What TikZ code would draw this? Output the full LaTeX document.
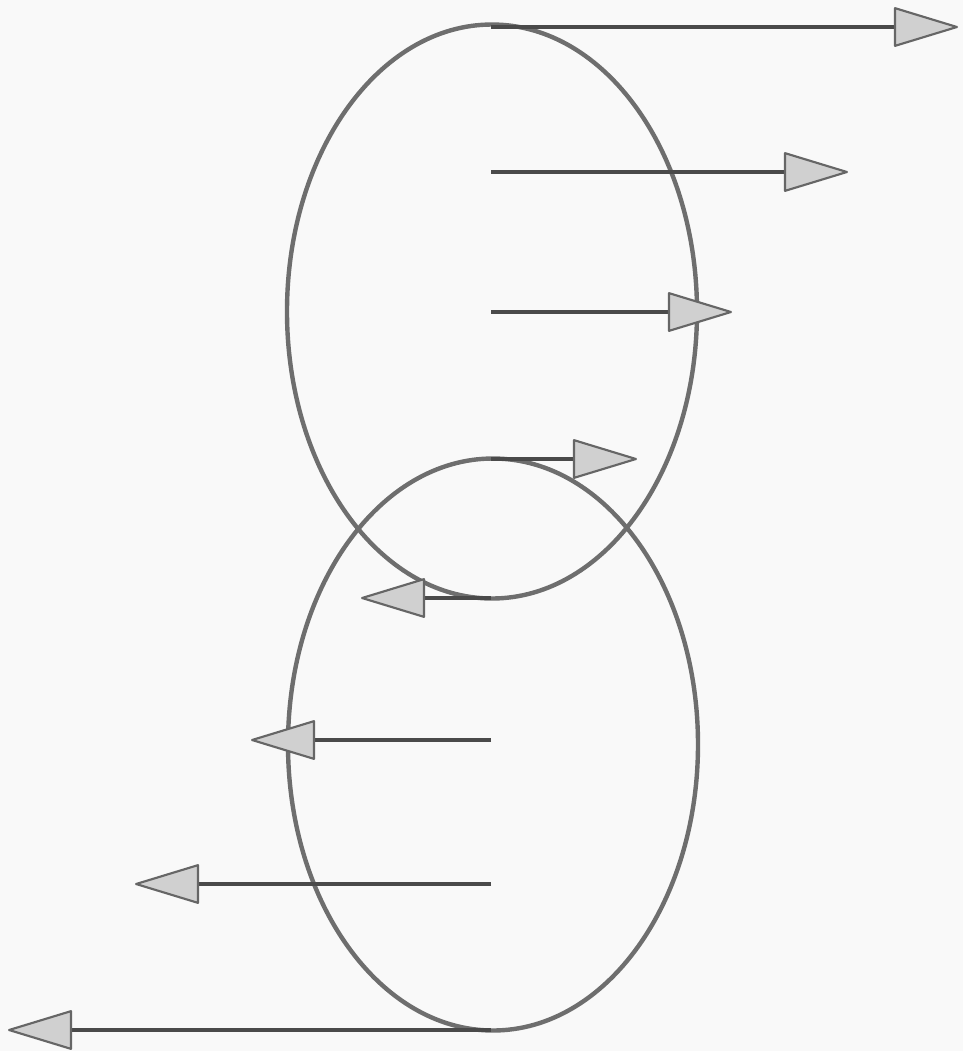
\documentclass[tikz,border=0pt]{standalone}
\usepackage{xcolor}
\usepackage{tikz}
\usetikzlibrary{arrows.meta}

\definecolor{ringgray}{HTML}{6E6E6E}
\definecolor{shaftgray}{HTML}{4A4A4A}
\definecolor{tipfill}{HTML}{D0D0D0}
\definecolor{tipline}{HTML}{666666}
\definecolor{paper}{HTML}{F9F9F9}

\tikzset{
  ring/.style={draw=ringgray,line width=3.3pt},
  vec/.style={draw=shaftgray,line width=3pt,
    -{Triangle[length=50pt,width=30pt,fill=tipfill,color=tipline,line width=1.6pt,round]}}
}

\begin{document}
\begin{tikzpicture}[x=0.75pt,y=-0.75pt]
  \fill[paper] (0,0) rectangle (963,1051);
  \useasboundingbox (0,0) rectangle (963,1051);
  % the two loops
  \coordinate (up) at (492,311.5);
  \coordinate (lo) at (493,744.5);
  \draw[ring] (up) ellipse [x radius=205, y radius=287];
  \draw[ring] (lo) ellipse [x radius=205, y radius=286];
  % field vectors
  \foreach \i/\y/\xe in {1/27/958,2/172/848,3/312/732,4/459/637,
                         5/598/361,6/740/251,7/884/135,8/1030/8} {
    \coordinate (s\i) at (491,\y);
    \coordinate (e\i) at (\xe,\y);
    \draw[vec] (s\i) -- (e\i);
  }
\end{tikzpicture}
\end{document}
